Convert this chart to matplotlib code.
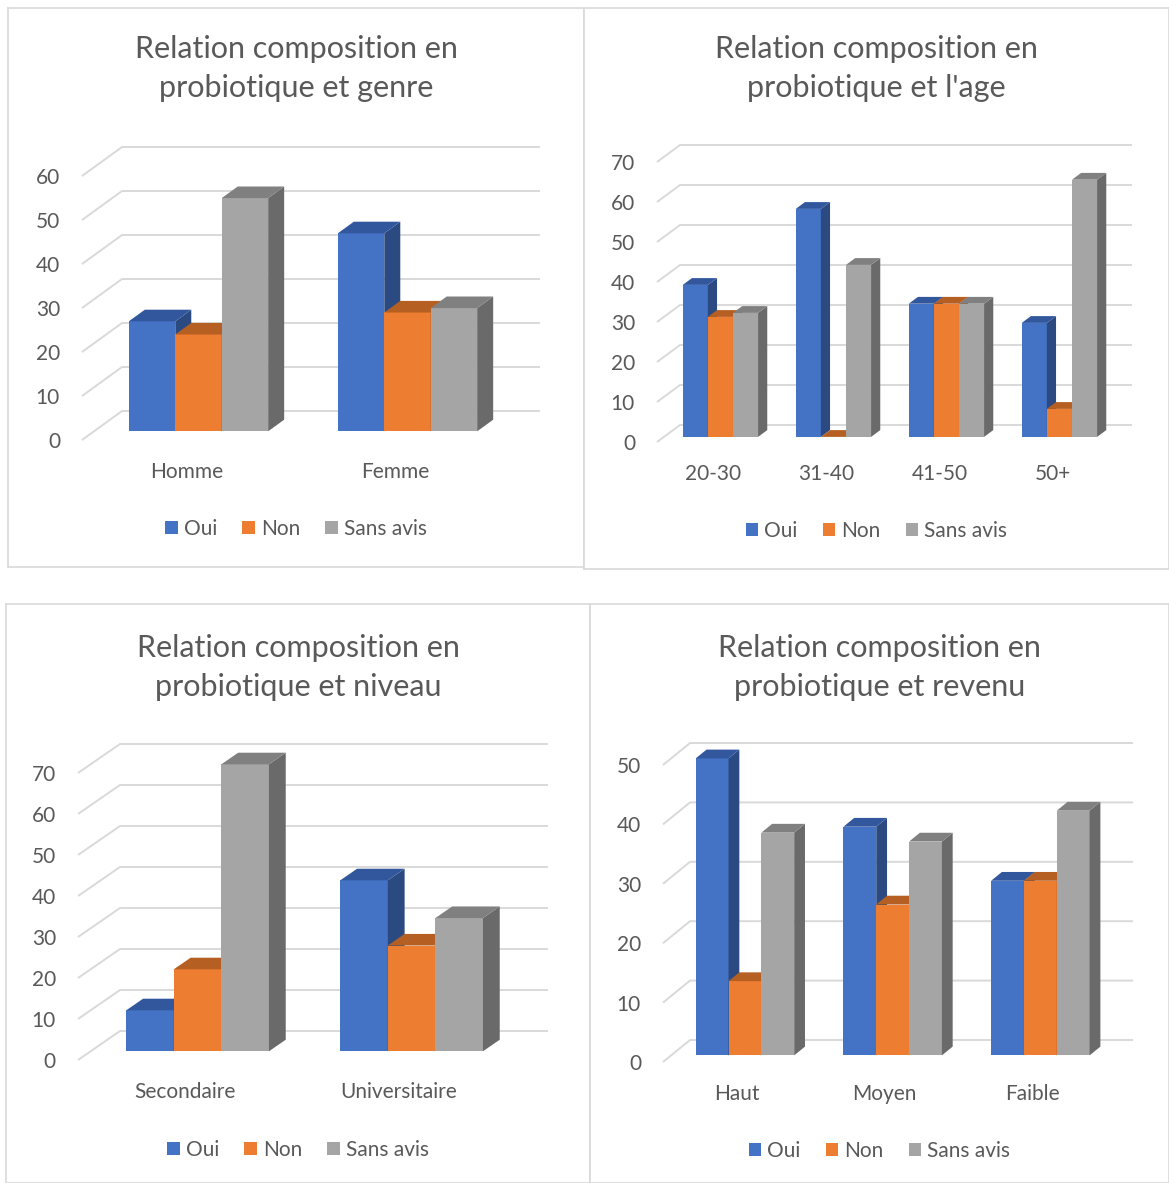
import matplotlib.pyplot as plt
from matplotlib.patches import Polygon

# Pourcentages par catégorie (Oui / Non / Sans avis)
genre_cats = ["Homme", "Femme"]
genre_oui = [25, 45]
genre_non = [22, 27]
genre_sans = [53, 28]

age_cats = ["20-30", "31-40", "41-50", "50+"]
age_oui = [38, 57, 33.3, 28.5]
age_non = [30, 0, 33.3, 7]
age_sans = [31, 43, 33.3, 64.3]

niveau_cats = ["Secondaire", "Universitaire"]
niveau_oui = [10, 41.7]
niveau_non = [20, 25.8]
niveau_sans = [70, 32.5]

revenu_cats = ["Haut", "Moyen", "Faible"]
revenu_oui = [50, 38.5, 29.4]
revenu_non = [12.5, 25.4, 29.4]
revenu_sans = [37.5, 36, 41.2]

series = ["Oui", "Non", "Sans avis"]
face_colors = ["#4472C4", "#ED7D31", "#A5A5A5"]
top_colors = ["#32579C", "#B55F23", "#808080"]
side_colors = ["#2B4A81", "#A55620", "#6A6A6A"]

TXT = "#595959"
GRID = "#D9D9D9"

plt.rcParams["font.family"] = ["Lato", "DejaVu Sans"]

W, H = 1169, 1183
fig = plt.figure(figsize=(W / 100, H / 100), dpi=100)

F0, F1 = 0.3, 0.7  # profondeur des barres dans le plancher


def chart(box, title, cats, values, ymax, x0, slot, y0, k, depth,
          title_y, legend_y):
    left, top, right, bottom = box
    ax = fig.add_axes([left / W, 1 - bottom / H,
                       (right - left) / W, (bottom - top) / H])
    ax.set_xlim((left - x0) / slot - 0.5, (right - x0) / slot - 0.5)
    ax.set_ylim((y0 - bottom) / k, (y0 - top) / k)
    ax.set_xticks([])
    ax.set_yticks([])
    for sp in ax.spines.values():
        sp.set_color(GRID)
        sp.set_linewidth(1.2)

    n = len(cats)
    dx = depth[0] / slot
    dy = depth[1] / k

    # murs : lignes de grille obliques puis horizontales
    for t in range(0, ymax + 1, 10):
        ax.plot([-0.5, -0.5 + dx, n - 0.5 + dx], [t, t + dy, t + dy],
                color=GRID, lw=1.4, zorder=1, solid_capstyle="butt")
        ax.annotate(str(t), xy=(-0.5, t), xytext=(-22, -2),
                    textcoords="offset pixels", ha="right", va="center",
                    fontsize=15, color=TXT)

    for i, c in enumerate(cats):
        ax.annotate(c, xy=(i, 0), xytext=(0, -32),
                    textcoords="offset pixels", ha="center", va="center",
                    fontsize=15, color=TXT)

    # colonnes 3D : face avant + côté + dessus
    w = 1 / 4.5
    ddx = (F1 - F0) * dx
    ddy = (F1 - F0) * dy
    for j, vals in enumerate(values):
        xs = [i - 1.5 * w + j * w + F0 * dx for i in range(n)]
        bars = ax.bar(xs, vals, width=w, bottom=F0 * dy, align="edge",
                      color=face_colors[j], label=series[j], zorder=3 + j)
        for r in bars.patches:
            xl, yb = r.get_x(), r.get_y()
            xr, yt = xl + r.get_width(), yb + r.get_height()
            ax.add_patch(Polygon([(xr, yb), (xr, yt), (xr + ddx, yt + ddy),
                                  (xr + ddx, yb + ddy)], closed=True,
                                 fc=side_colors[j], ec="none",
                                 zorder=3.1 + j))
            ax.add_patch(Polygon([(xl, yt), (xr, yt), (xr + ddx, yt + ddy),
                                  (xl + ddx, yt + ddy)], closed=True,
                                 fc=top_colors[j], ec="none",
                                 zorder=3.2 + j))

    ax.text(0.5, 1 - title_y / (bottom - top), title, transform=ax.transAxes,
            ha="center", va="center", fontsize=22, color=TXT,
            linespacing=1.45)

    ax.legend(loc="center", bbox_to_anchor=(0.5, 1 - legend_y / (bottom - top)),
              ncol=3, frameon=False, fontsize=15, labelcolor=TXT,
              handlelength=0.6, handleheight=0.6, handletextpad=0.3,
              columnspacing=1.2)
    return ax


chart((8, 8, 584, 567), "Relation composition en\nprobiotique et genre",
      genre_cats, [genre_oui, genre_non, genre_sans], 60,
      82, 209, 440, 4.4, (40, 29), 60.5, 521)

chart((584, 8, 1169, 569), "Relation composition en\nprobiotique et l'age",
      age_cats, [age_oui, age_non, age_sans], 70,
      657, 113, 442, 4.0, (23, 17), 60.5, 523)

chart((6, 604, 590, 1183), "Relation composition en\nprobiotique et niveau",
      niveau_cats, [niveau_oui, niveau_non, niveau_sans], 70,
      78, 214, 1060, 4.1, (42, 29), 63.5, 546)

chart((590, 604, 1169, 1183), "Relation composition en\nprobiotique et revenu",
      revenu_cats, [revenu_oui, revenu_non, revenu_sans], 50,
      663, 147.7, 1062, 5.94, (27, 22), 63.5, 547)

fig.savefig("out.png", dpi=100)
